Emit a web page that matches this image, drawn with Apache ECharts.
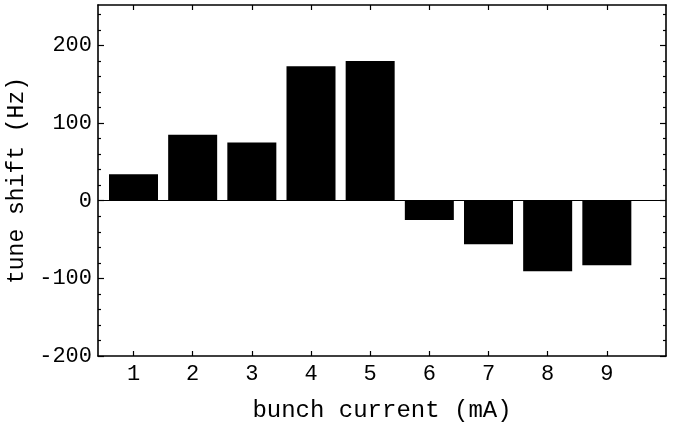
<!DOCTYPE html>
<html>
<head>
<meta charset="utf-8">
<script src="https://cdn.jsdelivr.net/npm/echarts@6/dist/echarts.min.js"></script>
<style>
html,body{margin:0;padding:0;background:#fff;}
#chart{width:676px;height:424px;}
</style>
</head>
<body>
<div id="chart"></div>
<script>
const categories = [1, 2, 3, 4, 5, 6, 7, 8, 9];
const tuneShift = [34, 85, 75, 173, 180, -25, -56, -91, -83];
const yTickLabels = [-200, -100, 0, 100, 200];
const yMinorTicks = [-180,-160,-140,-120,-80,-60,-40,-20,20,40,60,80,120,140,160,180,220,240];
const xTickLabels = categories;

const FONT = '"Liberation Mono", "DejaVu Sans Mono", monospace';
const black = '#000';

const chart = echarts.init(document.getElementById('chart'), null, {renderer: 'canvas'});

function xAxisDef(pos, showLabel) {
  return {
    type: 'value', position: pos, min: 0.4, max: 10,
    axisLine: {show: true, onZero: false, lineStyle: {color: black, width: 1.6}},
    axisTick: {show: true, inside: true, length: 5, customValues: xTickLabels, lineStyle: {color: black, width: 1.2}},
    axisLabel: {show: showLabel, customValues: xTickLabels, color: black, fontFamily: FONT, fontSize: 22, margin: 7},
    splitLine: {show: false}
  };
}
function yAxisDef(pos, major, showLabel, showLine) {
  return {
    type: 'value', position: pos, min: -200, max: 252,
    axisLine: {show: showLine, onZero: false, lineStyle: {color: black, width: 1.6}},
    axisTick: {show: true, inside: true, length: major ? 6 : 3, customValues: major ? yTickLabels : yMinorTicks, lineStyle: {color: black, width: 1.2}},
    axisLabel: {show: showLabel, customValues: yTickLabels, color: black, fontFamily: FONT, fontSize: 22, margin: 6},
    splitLine: {show: false}
  };
}

const xBottom = xAxisDef('bottom', true);
xBottom.name = 'bunch current (mA)';
xBottom.nameLocation = 'middle';
xBottom.nameGap = 43;
xBottom.nameTextStyle = {color: black, fontFamily: FONT, fontSize: 24};

const yLeft = yAxisDef('left', true, true, true);
yLeft.name = 'tune shift (Hz)';
yLeft.nameLocation = 'middle';
yLeft.nameGap = 64;
yLeft.nameTextStyle = {color: black, fontFamily: FONT, fontSize: 23};

chart.setOption({
  animation: false,
  backgroundColor: '#fff',
  grid: {left: 98, right: 10, top: 5, bottom: 68, containLabel: false, outerBoundsMode: 'none'},
  xAxis: [xBottom, xAxisDef('top', false)],
  yAxis: [
    yLeft,
    yAxisDef('left', false, false, false),
    yAxisDef('right', true, false, true),
    yAxisDef('right', false, false, false)
  ],
  series: [{
    type: 'bar',
    xAxisIndex: 0,
    yAxisIndex: 0,
    barWidth: 49,
    itemStyle: {color: black},
    data: categories.map((c, i) => [c, tuneShift[i]]),
    markLine: {
      silent: true,
      symbol: 'none',
      label: {show: false},
      lineStyle: {color: black, width: 1.2, type: 'solid'},
      data: [{yAxis: 0}]
    }
  }]
});
</script>
</body>
</html>
